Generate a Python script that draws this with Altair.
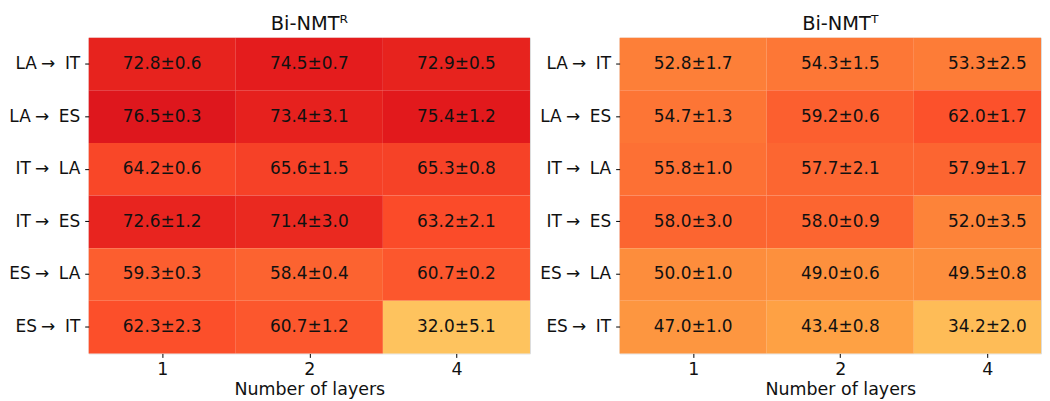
import altair as alt
import pandas as pd

pair_labels = ["LA\u2005\u2192\u2005\u00a0IT", "LA\u2005\u2192\u2005\u00a0ES", "IT\u2005\u2192\u2005\u00a0LA",
               "IT\u2005\u2192\u2005\u00a0ES", "ES\u2005\u2192\u2005\u00a0LA", "ES\u2005\u2192\u2005\u00a0IT"]
layers = ["1", "2", "4"]

r_mean = [[72.8, 74.5, 72.9], [76.5, 73.4, 75.4], [64.2, 65.6, 65.3],
          [72.6, 71.4, 63.2], [59.3, 58.4, 60.7], [62.3, 60.7, 32.0]]
r_std = [[0.6, 0.7, 0.5], [0.3, 3.1, 1.2], [0.6, 1.5, 0.8],
         [1.2, 3.0, 2.1], [0.3, 0.4, 0.2], [2.3, 1.2, 5.1]]
t_mean = [[52.8, 54.3, 53.3], [54.7, 59.2, 62.0], [55.8, 57.7, 57.9],
          [58.0, 58.0, 52.0], [50.0, 49.0, 49.5], [47.0, 43.4, 34.2]]
t_std = [[1.7, 1.5, 2.5], [1.3, 0.6, 1.7], [1.0, 2.1, 1.7],
         [3.0, 0.9, 3.5], [1.0, 0.6, 0.8], [1.0, 0.8, 2.0]]

titles = ["Bi-NMT\u1d3f", "Bi-NMT\u1d40"]

ylorrd = ["#ffffcc", "#ffeda0", "#fed976", "#feb24c", "#fd8d3c",
          "#fc4e2a", "#e31a1c", "#bd0026", "#800026"]
stops = [0, 12.5, 25, 37.5, 50, 62.5, 75, 87.5, 100]

FONT = "DejaVu Sans"
FULL_W = 443
COL_W = FULL_W / 3


def make_df(means, stds):
    rows = []
    for i, lab in enumerate(pair_labels):
        for j, l in enumerate(layers):
            rows.append({"pair": lab, "col": j, "col_end": j + 1, "col_mid": j + 0.5,
                         "value": means[i][j],
                         "label": f"{means[i][j]:.1f}\u00b1{stds[i][j]:.1f}"})
    return pd.DataFrame(rows)


def panel(df, title, view_w, title_dx=0):
    xmax = view_w / COL_W
    xscale = alt.Scale(domain=[0, xmax], nice=False, zero=False, clamp=True)
    xaxis = alt.Axis(title="Number of layers", values=[0.5, 1.5, 2.5],
                     labelExpr="['1','2','4'][floor(datum.value)]",
                     labelAngle=0, labelFontSize=17.5, titleFontSize=17.5,
                     titleFontWeight="normal", tickSize=4, labelPadding=3, titlePadding=3,
                     domain=False, grid=False, tickColor="black", labelColor="#111111",
                     titleColor="#111111", labelFont=FONT, titleFont=FONT,
                     titleX=FULL_W / 2, labelFlush=False, labelOverlap=False)
    y = alt.Y("pair:O", sort=pair_labels,
              scale=alt.Scale(paddingInner=0, paddingOuter=0),
              axis=alt.Axis(title=None, labelFontSize=17, tickSize=4, labelPadding=5,
                            domain=False, tickColor="black", labelColor="#111111",
                            labelFont=FONT, minExtent=80, maxExtent=80))
    rect = alt.Chart(df).mark_rect().encode(
        x=alt.X("col:Q", scale=xscale, axis=xaxis),
        x2="col_end:Q",
        y=y,
        color=alt.Color("value:Q", legend=None,
                        scale=alt.Scale(type="linear", domain=stops, range=ylorrd,
                                        interpolate="rgb"))
    )
    text = alt.Chart(df).mark_text(fontSize=17, font=FONT, color="#111111").encode(
        x=alt.X("col_mid:Q", scale=xscale, axis=xaxis),
        y=y,
        text="label:N",
    )
    return (rect + text).properties(
        width=view_w, height=317,
        title=alt.TitleParams(title, fontSize=19.5, font=FONT, fontWeight="normal",
                              color="#111111", offset=3, dx=title_dx)
    )


left = panel(make_df(r_mean, r_std), titles[0], FULL_W)
right = panel(make_df(t_mean, t_std), titles[1], 423, title_dx=10)

chart = alt.hconcat(left, right, spacing=8).configure_view(
    stroke="black", strokeWidth=1
).properties(
    padding={"left": 0, "top": 5, "right": 0, "bottom": 0}
).configure(background="white")

chart.save("out.html", embed_options={"renderer": "svg", "actions": False})
